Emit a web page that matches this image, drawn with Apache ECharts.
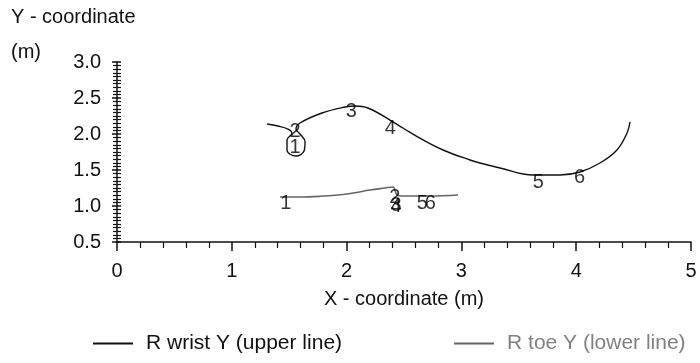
<!DOCTYPE html>
<html>
<head>
<meta charset="utf-8">
<script src="https://cdn.jsdelivr.net/npm/echarts@6/dist/echarts.min.js"></script>
<style>html,body{margin:0;padding:0;background:#fff}#c{width:700px;height:363px}</style>
</head>
<body>
<div id="c"></div>
<script>
// R wrist Y (upper line) path, metres
var wristX = [1.307,1.402,1.489,1.524,1.481,1.481,1.559,1.629,1.638,1.594,1.559,1.594,1.786,1.986,2.073,2.186,2.378,2.491,2.666,2.840,3.075,3.162,3.336,3.624,3.859,4.033,4.207,4.355,4.443,4.469];
var wristY = [2.139,2.111,2.069,2.014,1.917,1.778,1.694,1.764,1.889,2.000,2.069,2.153,2.292,2.375,2.389,2.361,2.194,2.083,1.917,1.778,1.639,1.597,1.528,1.431,1.431,1.472,1.597,1.778,2.014,2.167];
// R toe Y (lower line) path, metres
var toeX = [1.420,1.594,1.768,1.969,2.073,2.204,2.334,2.404,2.439,2.483,2.726,2.970];
var toeY = [1.125,1.125,1.135,1.160,1.185,1.222,1.250,1.264,1.153,1.139,1.139,1.153];
// numbered event labels
var wristLabelText = ['1','2','3','4','5','6'];
var wristLabelX = [1.55,1.55,2.04,2.38,3.67,4.03];
var wristLabelY = [1.81,2.03,2.31,2.08,1.32,1.39];
var toeLabelText = ['1','2','3','4','5','6'];
var toeLabelX = [1.47,2.42,2.43,2.43,2.66,2.73];
var toeLabelY = [1.04,1.125,1.01,1.00,1.04,1.04];
var xTicks = [0,1,2,3,4,5];
var yTicks = [0.5,1.0,1.5,2.0,2.5,3.0];
var seriesNames = ['R wrist Y (upper line)','R toe Y (lower line)'];
var xTitle = 'X - coordinate (m)';
var yTitle = 'Y - coordinate';
var yUnit = '(m)';

function zip(a,b,c){return a.map(function(v,i){return c?[v,b[i],c[i]]:[v,b[i]];});}

var FONT = 'Liberation Sans';
var FS = 20;
var chart = echarts.init(document.getElementById('c'));
var labelSeries = function(xs,ys,ts,color){
  return {type:'scatter',data:zip(xs,ys,ts),symbolSize:1,silent:true,z:5,
    itemStyle:{color:'rgba(0,0,0,0)'},
    label:{show:true,position:'inside',formatter:function(p){return p.data[2];},
      color:color,fontFamily:FONT,fontSize:FS,textBorderWidth:0}};
};
chart.setOption({
  animation:false,
  textStyle:{fontFamily:FONT},
  title:{text:yTitle+'\n'+yUnit,left:6,top:-5,
    textStyle:{fontFamily:FONT,fontSize:FS,fontWeight:'normal',color:'#111',lineHeight:35}},
  grid:{left:117,right:9,top:62,bottom:121,containLabel:false},
  legend:{bottom:4,left:88,itemGap:112,itemWidth:40,itemHeight:2,icon:'rect',
    data:[{name:seriesNames[0],textStyle:{color:'#111'}},{name:seriesNames[1],textStyle:{color:'#808080'}}],
    textStyle:{fontFamily:FONT,fontSize:21,padding:[0,0,0,8]}},
  xAxis:{type:'value',min:xTicks[0],max:xTicks[xTicks.length-1],interval:1,
    name:xTitle,nameLocation:'middle',nameGap:47,
    nameTextStyle:{fontFamily:FONT,fontSize:FS,color:'#111'},
    axisLine:{lineStyle:{color:'#111',width:1.5}},
    axisTick:{show:true,length:9,lineStyle:{color:'#111',width:1.5}},
    minorTick:{show:true,splitNumber:5,length:6,lineStyle:{color:'#111',width:1.2}},
    axisLabel:{fontFamily:FONT,fontSize:FS,color:'#111',margin:19},
    splitLine:{show:false}},
  yAxis:[{type:'value',min:yTicks[0],max:yTicks[yTicks.length-1],interval:0.5,
    axisLine:{lineStyle:{color:'#111',width:1.5}},
    axisTick:{show:true,length:5,lineStyle:{color:'#111',width:1.5}},
    minorTick:{show:true,splitNumber:10,length:4,lineStyle:{color:'#111',width:1.2}},
    axisLabel:{fontFamily:FONT,fontSize:FS,color:'#111',margin:16,formatter:function(v){return v.toFixed(1);}},
    splitLine:{show:false}},
   {type:'value',min:yTicks[0],max:yTicks[yTicks.length-1],interval:0.5,position:'left',
    axisLine:{show:false},
    axisTick:{show:true,inside:true,length:4,lineStyle:{color:'#111',width:1.5}},
    minorTick:{show:true,splitNumber:10,length:4,lineStyle:{color:'#111',width:1.2}},
    axisLabel:{show:false},splitLine:{show:false}}],
  series:[
    {name:seriesNames[0],type:'line',data:zip(wristX,wristY),showSymbol:false,smooth:0.4,
      lineStyle:{color:'#111',width:1.4},itemStyle:{color:'#111'}},
    {name:seriesNames[1],type:'line',data:zip(toeX,toeY),showSymbol:false,smooth:0.4,
      lineStyle:{color:'#666',width:1.6},itemStyle:{color:'#666'}},
    labelSeries(wristLabelX,wristLabelY,wristLabelText,'#000'),
    labelSeries(toeLabelX,toeLabelY,toeLabelText,'#000')
  ]
});
</script>
</body>
</html>
